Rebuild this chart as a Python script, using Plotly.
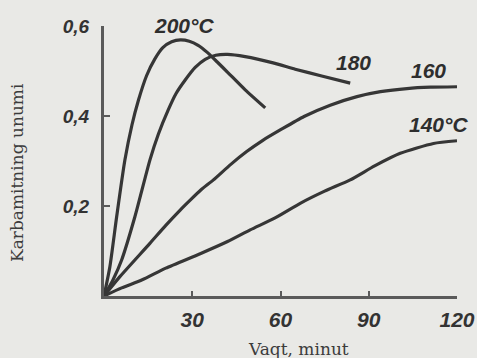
import plotly.graph_objects as go

# Reaction time, minutes, and yield of carbamide for each temperature
t_200 = [0, 2.0, 4.3, 7.1, 9.5, 11.7, 14.5, 17.3, 20.0, 23.0, 26.0, 29.0, 32.0, 35.0, 38.5, 42.2, 48.0, 54.8]
y_200 = [0, 0.065, 0.176, 0.302, 0.380, 0.435, 0.490, 0.527, 0.552, 0.565, 0.569, 0.566, 0.557, 0.542, 0.520, 0.496, 0.458, 0.418]

t_180 = [0, 3.0, 6.0, 10.5, 15.6, 18.5, 21.8, 24.5, 27.6, 31.0, 34.4, 38.0, 42.0, 48.0, 57.5, 65.0, 74.0, 83.7]
y_180 = [0, 0.035, 0.080, 0.176, 0.302, 0.360, 0.413, 0.450, 0.480, 0.508, 0.526, 0.535, 0.537, 0.532, 0.518, 0.504, 0.489, 0.473]

t_160 = [0, 5.4, 15.6, 21.0, 25.9, 29.3, 33.0, 37.2, 43.0, 48.5, 54.0, 59.9, 68.0, 76.9, 86.0, 94.0, 103.0, 111.0, 120.0]
y_160 = [0, 0.043, 0.117, 0.157, 0.191, 0.213, 0.236, 0.258, 0.292, 0.321, 0.346, 0.369, 0.399, 0.424, 0.443, 0.454, 0.461, 0.464, 0.465]

t_140 = [0, 6.0, 13.0, 21.0, 32.7, 42.0, 49.7, 58.0, 66.7, 75.0, 83.7, 92.0, 100.7, 112.0, 120.0]
y_140 = [0, 0.018, 0.036, 0.062, 0.094, 0.121, 0.147, 0.173, 0.206, 0.233, 0.258, 0.289, 0.317, 0.339, 0.345]

series = [("200°C", t_200, y_200), ("180", t_180, y_180),
          ("160", t_160, y_160), ("140°C", t_140, y_140)]

x_ticks = [30, 60, 90, 120]
x_ticktext = ["30", "60", "90", "120"]
y_ticks = [0.2, 0.4, 0.6]
y_ticktext = ["0,2", "0,4", "0,6"]
x_range = [0, 120]
y_range = [0, 0.6]

# curve label anchor positions (data units)
label_pos = {"200°C": (27.2, 0.602), "180": (84.7, 0.518),
             "160": (110.2, 0.501), "140°C": (113.6, 0.380)}

line_col = "#363636"
axis_col = "#5a5a5a"
bg = "#e9e9e6"

W, H = 477, 358
ML, MR, MT, MB = 104, 20, 26, 62
pw, ph = W - ML - MR, H - MT - MB

fig = go.Figure()
for name, t, y in series:
    fig.add_trace(go.Scatter(x=t, y=y, mode="lines", name=name,
                             line=dict(color=line_col, width=3.2, shape="spline", smoothing=0.6),
                             showlegend=False, hoverinfo="skip"))

label_font = dict(family="Liberation Sans", size=21, color="#2e2e2e", style="italic", weight="bold")
for name, (lx, ly) in label_pos.items():
    fig.add_annotation(x=(lx - x_range[0]) / (x_range[1] - x_range[0]),
                       y=(ly - y_range[0]) / (y_range[1] - y_range[0]),
                       xref="paper", yref="paper", xanchor="center", yanchor="middle",
                       text=name, showarrow=False, font=label_font)

xtick_font = dict(family="Liberation Sans", size=21, color="#333333", style="italic", weight="bold")
ytick_font = dict(family="Liberation Sans", size=19, color="#333333", style="italic", weight="bold")

fig.update_xaxes(range=x_range, showline=True, linecolor=axis_col, linewidth=3,
                 tickvals=x_ticks, ticktext=x_ticktext, ticks="inside", ticklen=5,
                 tickcolor=axis_col, tickwidth=2, tickfont=xtick_font, automargin=False,
                 showgrid=False, zeroline=False, ticklabelstandoff=3)
fig.update_yaxes(range=y_range, showline=True, linecolor=axis_col, linewidth=3,
                 tickvals=y_ticks, ticktext=y_ticktext, ticks="inside", ticklen=6,
                 tickcolor=axis_col, tickwidth=2, tickfont=ytick_font, automargin=False,
                 showgrid=False, zeroline=False, ticklabelstandoff=8)

title_font = dict(family="DejaVu Serif", size=17, color="#3c3c3c")
fig.add_annotation(x=(298 - ML) / pw, y=(H - MB - 349) / ph, xref="paper", yref="paper",
                   xanchor="center", yanchor="middle",
                   text="Vaqt, minut", showarrow=False, font=title_font)
fig.add_annotation(x=(17 - ML) / pw, y=(H - MB - 173) / ph, xref="paper", yref="paper",
                   xanchor="center", yanchor="middle",
                   text="Karbamitning unumi", textangle=-90, showarrow=False, font=title_font)

fig.update_layout(width=W, height=H, margin=dict(l=ML, r=MR, t=MT, b=MB, autoexpand=False),
                  paper_bgcolor=bg, plot_bgcolor=bg)

fig.write_html("out.html", config={"displayModeBar": False},
               post_script="document.body.style.margin='0';document.body.style.background='%s';" % bg)
